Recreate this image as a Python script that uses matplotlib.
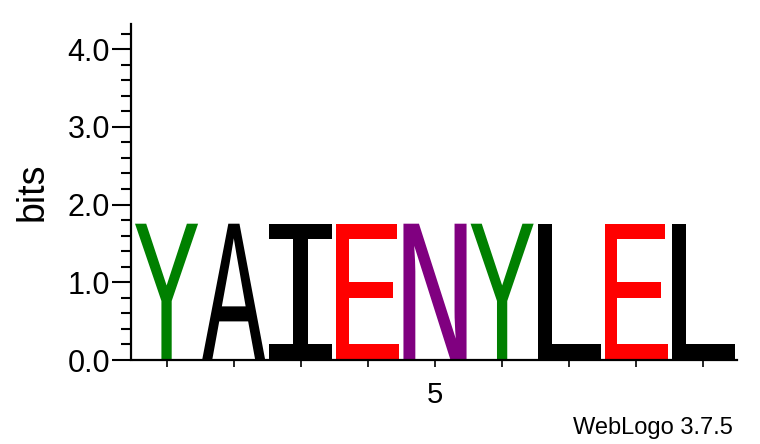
import numpy as np
import matplotlib
matplotlib.use("Agg")
import matplotlib.pyplot as plt
from matplotlib.textpath import TextPath
from matplotlib.patches import PathPatch
from matplotlib.font_manager import FontProperties
from matplotlib.transforms import Affine2D

# one column per position
positions = [1, 2, 3, 4, 5, 6, 7, 8, 9]
letters = ["Y", "A", "I", "E", "N", "Y", "L", "E", "L"]
heights = [1.754, 1.754, 1.754, 1.754, 1.754, 1.754, 1.754, 1.754, 1.754]
colors = {"Y": "#008000", "A": "#000000", "I": "#000000", "L": "#000000",
          "E": "#ff0000", "N": "#800080"}

plt.rcParams['font.family'] = ['Liberation Sans', 'DejaVu Sans']

fig = plt.figure(figsize=(7.6, 4.44), dpi=100)
ax = fig.add_axes([133/760, (444-360)/444, 604/760, (360-24.3)/444])
ax.set_xlim(0.5, 9.5)
ax.set_ylim(0, 4.32)

fp = FontProperties(family="Liberation Mono")
w = 0.94
for x, ch, h in zip(positions, letters, heights):
    tp = TextPath((0, 0), ch, size=1, prop=fp)
    bb = tp.get_extents()
    tr = Affine2D().translate(-bb.x0, -bb.y0).scale(w/bb.width, h/bb.height).translate(x - w/2, 0)
    ax.add_patch(PathPatch(tr.transform_path(tp), color=colors[ch], lw=0))

for s in ["top", "right"]:
    ax.spines[s].set_visible(False)
ax.spines["left"].set_position(("outward", 1.5))
ax.spines["left"].set_linewidth(1.6)
ax.spines["bottom"].set_linewidth(1.6)

ax.set_yticks([0, 1, 2, 3, 4])
ax.set_yticklabels(["0.0", "1.0", "2.0", "3.0", "4.0"])
ax.set_yticks(np.arange(0, 4.3, 0.2), minor=True)
ax.tick_params(axis="y", which="major", length=14, width=1.5, labelsize=22, pad=1)
ax.tick_params(axis="y", which="minor", length=7, width=1.5)
ax.set_xticks(positions)
ax.set_xticklabels(["", "", "", "", "5", "", "", "", ""])
ax.tick_params(axis="x", length=5, width=1.2, labelsize=21, pad=10)
ax.set_ylabel("bits", fontsize=27, labelpad=12)

fig.text(733/760, (444-428)/444, "WebLogo 3.7.5", fontsize=17, ha="right", va="center")

fig.savefig("out.png", dpi=100)
